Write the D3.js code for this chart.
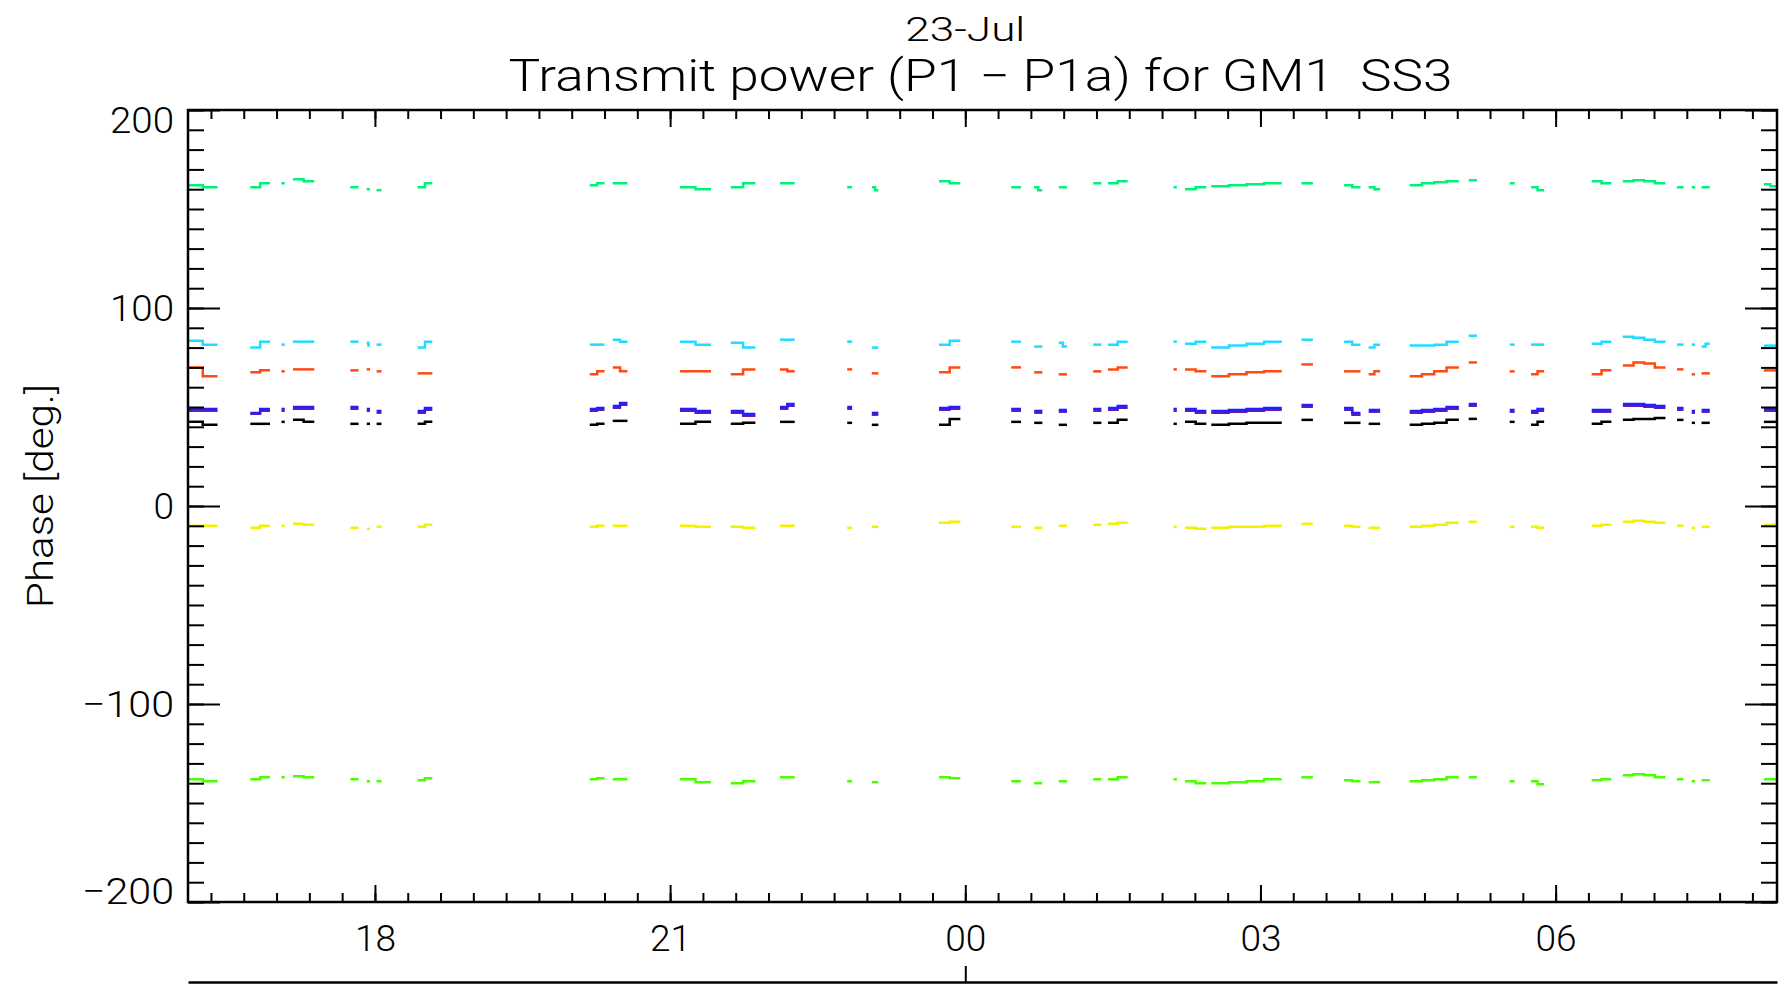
<!DOCTYPE html>
<html>
<head>
<meta charset="utf-8">
<script src="https://cdn.jsdelivr.net/npm/d3@7"></script>
<style>
  body { margin: 0; background: #fff; }
  svg text { font-family: Roboto, "DejaVu Sans", sans-serif; font-weight: 300; fill: #000; }
</style>
</head>
<body>
<svg id="chart" width="1780" height="990"></svg>
<script>
// ---------------- data ----------------
var dateLabel = "23-Jul";
var titleText = "Transmit power (P1 \u2212 P1a) for GM1  SS3";
var yTitle = "Phase [deg.]";
var timeDomain = ["22 16:06", "23 08:15"];
var dayTick = ["23 00:00"];
var yMajor = [-200, -100, 0, 100, 200];

// time windows with data (same for every channel)
var segStart = ["22 16:06","22 16:44","22 17:03","22 17:10","22 17:45","22 17:55","22 18:01","22 18:26",
  "22 20:11","22 20:25","22 21:06","22 21:37","22 22:07","22 22:48","22 23:03","22 23:44",
  "23 00:28","23 00:42","23 00:57","23 01:18","23 01:27","23 02:07","23 02:14","23 02:30",
  "23 03:25","23 03:51","23 04:06","23 04:31","23 05:07","23 05:32","23 05:45","23 06:22",
  "23 06:41","23 07:14","23 07:23","23 07:29","23 08:07"];
var segEnd = ["22 16:24","22 16:56","22 17:05","22 17:23","22 17:50","22 17:57","22 18:04","22 18:35",
  "22 20:20","22 20:34","22 21:25","22 21:52","22 22:16","22 22:51","22 23:07","22 23:57",
  "23 00:34","23 00:47","23 01:02","23 01:23","23 01:39","23 02:09","23 02:27","23 03:13",
  "23 03:32","23 04:01","23 04:13","23 05:01","23 05:12","23 05:35","23 05:53","23 06:34",
  "23 07:07","23 07:18","23 07:25","23 07:34","23 08:15"];

// phase values per window (steps inside a window)
var blackVals = [[42.5,41],[41.5],[42.5],[43.5,42.5],[41.5],[41.5],[41.5],[41.5,42.5],
  [41,41.5],[43],[41.5,42.5],[41.5,42],[42.5],[42],[41],[41,44],
  [42.5],[42],[41],[42],[42,43.5],[41.5],[42.5,41.5],[41,41.5,42,42],
  [43.5],[42],[41.5],[41,41.5,42,43.5],[44],[42.5],[41,42.5],[41.5,42.5],
  [43.5,44,44,44.5],[43.5],[42],[42],[42.5]];
var purpleVals = [[48],[46.5,48],[48],[49],[49],[48],[47],[47,48.5],
  [48,48.5],[49.5,51],[48,47],[47,45.5],[49,50.5],[49],[46],[48.5,49],
  [48],[47],[47.5],[48],[48.5,49.5],[48],[48,47],[47,47.5,48,48.5],
  [50],[48.5,46],[47.5],[47,47.5,48,49],[50.5],[47.5],[47,48],[47.5],
  [50.5,50.5,50,49.5],[48.5],[47],[47.5],[48]];
var blueVals = [[49,49],[47,49],[49],[50,50],[50],[49],[48],[48,49.5],
  [49,49.5],[50.5,52],[49,48],[48,46.5],[50,51.5],[50],[47],[49.5,50],
  [49],[48],[48.5],[49],[49.5,50.5],[49],[49,48],[48,48.5,49,49.5],
  [51],[49.5,47],[48.5],[48,48.5,49,50],[51.5],[48.5],[48,49],[48.5],
  [51.5,51.5,51,50.5],[49.5],[48],[48.5],[49]];
var orangeVals = [[70,65.5],[67.5,68.5],[68],[69,69],[68.5],[69],[68],[67,67],
  [66.5,68],[70,68],[68,68],[66.5,69],[69,68],[69],[67],[67.5,70],
  [70],[67.5],[66.5],[68],[69,70],[69],[69,68],[65.5,66.5,67.5,68],
  [71.5],[68],[66.5,68],[65.5,66.5,68,70],[72.5],[68],[66.5,68],[66.5,68.5],
  [71,72.5,72,70],[69],[66.5],[67],[68.5]];
var cyanVals = [[83.5,81.5],[80,83],[81.5],[83,83],[83],[82.5,81],[81.5],[80,83],
  [81.5,81.5],[84,83],[83,81.5],[82.5,80],[84,84],[83],[80],[81.5,83.5],
  [83],[80.5],[82.5,80.5],[81.5],[81.5,83],[83],[82,83],[80,81,82,83],
  [84],[83,81.5],[80,81.5],[81,81,81.5,83],[86],[81.5],[81.5],[82,83],
  [85.5,85,84,83],[81.5],[81.5],[80.5,82],[81]];
var greenVals = [[162,161],[161,163],[163],[165,164],[161],[160],[159.5],[161,163],
  [162,163],[163,163],[161,160],[161,163],[163],[161],[161,159.5],[164,163],
  [161],[161,159.5],[161],[163],[163,164],[161],[160,161],[161.5,162,162.5,163],
  [163],[162,161],[161,160],[162,163,163.5,164],[164.5],[163],[161,159.5],[164,163],
  [164,164.5,164,163],[161],[161],[161],[162.5,161.5]];
var yellowVals = [[-10,-10],[-11,-10],[-10],[-9,-9.5],[-11],[-11.5],[-10.5],[-10.5,-9.5],
  [-10.5,-10],[-10,-10],[-10,-10.5],[-10.5,-11],[-10],[-11],[-10.5],[-8.5,-8],
  [-10.5],[-11],[-10],[-9.5],[-9,-8.5],[-10.5],[-11,-11.5],[-11,-10.5,-10.5,-10],
  [-9],[-10,-10.5],[-11],[-10.5,-10,-9.5,-8.5],[-8],[-10.5],[-10.5,-11],[-10,-9.5],
  [-8,-7.5,-8,-8.5],[-10],[-11],[-10.5],[-9.5]];
var limeVals = [[-138,-139],[-138,-137],[-137],[-136.5,-137],[-138],[-139],[-139],[-138.5,-137.5],
  [-138,-137.5],[-138,-138],[-138,-139.5],[-140,-139],[-137,-137],[-139],[-139.5],[-137,-137.5],
  [-139],[-140],[-139],[-138],[-138,-137],[-138],[-139,-140],[-140,-139.5,-139,-138],
  [-137],[-138.5,-139],[-139.5],[-139,-138.5,-138,-137],[-137],[-139],[-139,-140.5],[-138.5,-138],
  [-136,-135.5,-136,-137],[-138],[-139],[-138.5],[-138]];

var channels = [
  {vals: limeVals,   color: "#4cff00", w: 2.5},
  {vals: yellowVals, color: "#f2f200", w: 2.5},
  {vals: blackVals,  color: "#000000", w: 2.5},
  {vals: purpleVals, color: "#6a1aa8", w: 2},
  {vals: blueVals,   color: "#1f1fff", w: 2.5},
  {vals: orangeVals, color: "#ff4a12", w: 2.5},
  {vals: cyanVals,   color: "#20dcff", w: 2.5},
  {vals: greenVals,  color: "#00f27a", w: 2.5}
];

// ---------------- layout ----------------
var plot = {left: 188, right: 1777, top: 110, bottom: 902};
var parseT = d3.timeParse("%d %H:%M");

var svg = d3.select("#chart");

var x = d3.scaleTime()
    .domain(timeDomain.map(parseT))
    .range([plot.left, plot.right]);
var y = d3.scaleLinear()
    .domain([-200, 200])
    .range([plot.bottom, plot.top]);

var line = d3.line()
    .x(function(d) { return x(d[0]); })
    .y(function(d) { return y(d[1]); })
    .curve(d3.curveStepAfter);

// data segments
channels.forEach(function(ch) {
  var g = svg.append("g");
  ch.vals.forEach(function(vals, i) {
    var t0 = parseT(segStart[i]).getTime(),
        t1 = parseT(segEnd[i]).getTime(),
        n = vals.length;
    var pts = vals.map(function(v, k) { return [new Date(t0 + k * (t1 - t0) / n), v]; });
    pts.push([new Date(t1), vals[n - 1]]);
    g.append("path")
        .attr("d", line(pts))
        .attr("fill", "none")
        .attr("stroke", ch.color)
        .attr("stroke-width", ch.w);
  });
});

function styleAxis(g, w) {
  g.select(".domain").remove();
  g.selectAll("line").attr("stroke", "#000").attr("stroke-width", w);
  g.attr("font-family", null).attr("font-size", null);
}

// bottom axis: minor + major
svg.append("g")
    .attr("transform", "translate(0," + plot.bottom + ")")
    .call(d3.axisBottom(x).ticks(d3.timeMinute.every(20)).tickSize(-9).tickFormat(""))
    .call(styleAxis, 2);
var xAxis = svg.append("g")
    .attr("transform", "translate(0," + plot.bottom + ")")
    .call(d3.axisBottom(x).ticks(d3.timeHour.every(3)).tickSize(-17).tickPadding(23)
      .tickFormat(d3.timeFormat("%H")))
    .call(styleAxis, 2);
xAxis.selectAll("text").style("font-size", "37px").attr("textLength", 41);

// top axis (mirror, no labels)
svg.append("g")
    .attr("transform", "translate(0," + plot.top + ")")
    .call(d3.axisTop(x).ticks(d3.timeMinute.every(20)).tickSize(-9).tickFormat(""))
    .call(styleAxis, 2);
svg.append("g")
    .attr("transform", "translate(0," + plot.top + ")")
    .call(d3.axisTop(x).ticks(d3.timeHour.every(3)).tickSize(-17).tickFormat(""))
    .call(styleAxis, 2);

// left axis
svg.append("g")
    .attr("transform", "translate(" + plot.left + ",0)")
    .call(d3.axisLeft(y).ticks(40).tickSize(-16).tickFormat(""))
    .call(styleAxis, 2);
var yAxis = svg.append("g")
    .attr("transform", "translate(" + plot.left + ",0)")
    .call(d3.axisLeft(y).tickValues(yMajor).tickSize(-32).tickPadding(14)
      .tickFormat(function(d) { return d < 0 ? "\u2212" + Math.abs(d) : d; }))
    .call(styleAxis, 2);
yAxis.selectAll("text")
    .style("font-size", "37px")
    .attr("textLength", function(d) { return d === 0 ? null : d < 0 ? 92 : 64; })
    .attr("lengthAdjust", "spacingAndGlyphs")
    .attr("dy", function(d) { return d === 200 ? "0.62em" : d === -200 ? "0.05em" : "0.34em"; });

// right axis (mirror, no labels)
svg.append("g")
    .attr("transform", "translate(" + plot.right + ",0)")
    .call(d3.axisRight(y).ticks(40).tickSize(-16).tickFormat(""))
    .call(styleAxis, 2);
svg.append("g")
    .attr("transform", "translate(" + plot.right + ",0)")
    .call(d3.axisRight(y).tickValues(yMajor).tickSize(-32).tickFormat(""))
    .call(styleAxis, 2);

// frame
svg.append("rect")
    .attr("x", plot.left).attr("y", plot.top)
    .attr("width", plot.right - plot.left).attr("height", plot.bottom - plot.top)
    .attr("fill", "none").attr("stroke", "#000").attr("stroke-width", 2.5);

// day axis underneath
var dayAxis = svg.append("g")
    .attr("transform", "translate(0,982)")
    .call(d3.axisBottom(x).tickValues(dayTick.map(parseT)).tickSize(-16).tickSizeOuter(0).tickFormat(""));
dayAxis.select(".domain").attr("stroke-width", 2.5);
dayAxis.selectAll("line").attr("stroke-width", 2);

// titles
svg.append("text")
    .attr("x", x(parseT(dayTick[0])))
    .attr("y", 41)
    .attr("text-anchor", "middle")
    .attr("textLength", 120)
    .attr("lengthAdjust", "spacingAndGlyphs")
    .style("font-size", "33px")
    .text(dateLabel);

svg.append("text")
    .attr("x", (plot.left + plot.right) / 2 - 2)
    .attr("y", 91)
    .attr("text-anchor", "middle")
    .attr("textLength", 944)
    .attr("lengthAdjust", "spacingAndGlyphs")
    .style("white-space", "pre")
    .style("font-size", "44px")
    .text(titleText);

svg.append("text")
    .attr("transform", "translate(53," + ((plot.top + plot.bottom) / 2 - 10) + ") rotate(-90)")
    .attr("text-anchor", "middle")
    .attr("textLength", 224)
    .attr("lengthAdjust", "spacingAndGlyphs")
    .style("font-size", "37px")
    .text(yTitle);
</script>
</body>
</html>
